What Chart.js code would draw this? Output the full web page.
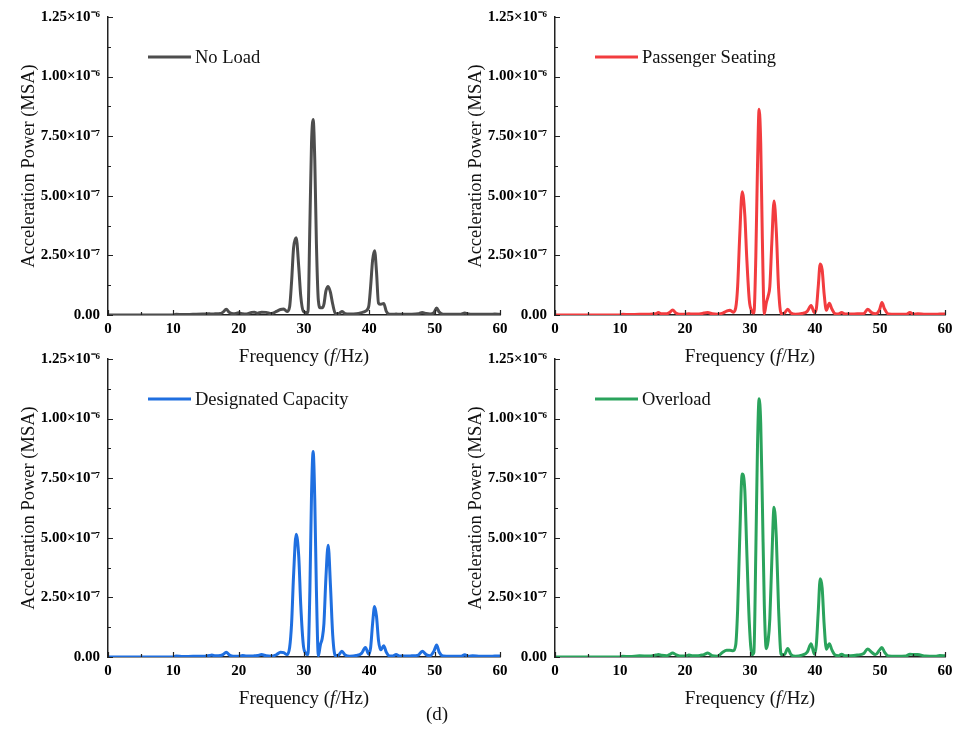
<!DOCTYPE html>
<html>
<head>
<meta charset="utf-8">
<script src="https://cdn.jsdelivr.net/npm/chart.js@4.4.1/dist/chart.umd.min.js"></script>
<style>
  html, body { margin: 0; padding: 0; background: #fff; }
  body { width: 965px; height: 738px; position: relative; overflow: hidden; font-family: "Liberation Serif", "Times New Roman", serif; }
  .panel { position: absolute; width: 520px; height: 372px; }
  #caption { position: absolute; left: 0; top: 703px; width: 874px; text-align: center; font-size: 19px; color: #111; }
</style>
</head>
<body>
<div class="panel" style="left:0;top:0"><canvas id="cNoLoad"></canvas></div>
<div class="panel" style="left:447px;top:0;width:518px"><canvas id="cSeating"></canvas></div>
<div class="panel" style="left:0;top:342px"><canvas id="cCapacity"></canvas></div>
<div class="panel" style="left:447px;top:342px;width:518px"><canvas id="cOverload"></canvas></div>
<div id="caption">(d)</div>

<script>
// frequency (Hz), shared by all four spectra
const freq = [
  0, 10, 10.4, 11.5, 13, 14.5, 15.5, 15.9, 16.4, 17.2,
  17.6, 18.1, 18.6, 19.2, 20, 20.6, 21.2, 22, 22.4, 22.9,
  23.5, 24.2, 25, 25.8, 26.4, 26.9, 27.4, 27.8, 28.1, 28.4,
  28.8, 29.2, 29.5, 29.9, 30.3, 30.6, 30.9, 31.15, 31.4, 31.65,
  31.9, 32.2, 32.5, 32.8, 33.05, 33.35, 33.7, 34.05, 34.4, 34.8,
  35.3, 35.8, 36.3, 37, 38, 38.8, 39.4, 39.9, 40.2, 40.5,
  40.8, 41.1, 41.4, 41.75, 42.2, 42.6, 43.1, 43.6, 44.1, 44.6,
  45.5, 46.5, 47.5, 48.1, 48.7, 49.3, 49.9, 50.3, 50.7, 51.3,
  52.5, 54, 54.6, 55.2, 55.8, 57, 58.5, 59.2, 60
];

// acceleration power, in units of 1e-8 MSA
const noLoad = [
  0, 0, 0.3, 0.2, 0.3, 0.4, 0.5, 0.4, 0.5, 0.6,
  1.2, 2.4, 1.0, 0.5, 0.9, 0.5, 0.4, 1.1, 1.2, 0.7,
  1.2, 1.1, 0.6, 1.5, 2.3, 2.5, 1.5, 3.5, 14, 28,
  32.4, 20, 8, 1.5, 1.0, 1.0, 38, 72, 82, 65,
  30, 6, 3, 3, 4.5, 10, 12, 9.5, 4.5, 0.6,
  0.5, 1.5, 0.6, 0.4, 0.5, 1.0, 1.6, 3.5, 12, 23,
  27, 18, 5, 4.5, 4.8, 1.5, 0.3, 0.3, 0.4, 0.3,
  0.3, 0.3, 0.5, 1.1, 0.6, 0.4, 1.0, 2.9, 1.2, 0.3,
  0.3, 0.3, 0.8, 0.4, 0.3, 0.3, 0.3, 0.4, 0.3
];
const passengerSeating = [
  0, 0, 0.3, 0.2, 0.3, 0.3, 0.5, 1.0, 0.5, 0.5,
  1.0, 2.1, 0.8, 0.3, 0.3, 0.5, 0.4, 0.4, 0.5, 0.8,
  1.0, 0.5, 0.3, 0.8, 1.6, 2.0, 1.2, 3, 12, 32,
  51.7, 42, 24, 6, 1.5, 0.8, 25, 62, 86.3, 72,
  32, 0.5, 5, 8, 12, 30, 47.8, 35, 11, 0.5,
  0.8, 2.4, 0.8, 0.3, 0.6, 1.5, 4, 1.0, 2.5, 12,
  21.4, 19, 9, 2.0, 4.9, 2.5, 0.5, 0.4, 1.0, 0.4,
  0.4, 0.5, 0.6, 2.4, 1.0, 0.5, 2.0, 5.2, 2.5, 0.4,
  0.3, 0.3, 1.0, 0.3, 0.5, 0.3, 0.3, 0.4, 0.4
];
const designatedCapacity = [
  0, 0, 0.4, 0.2, 0.3, 0.3, 0.6, 0.8, 0.5, 0.6,
  1.0, 2.0, 0.8, 0.3, 0.3, 0.6, 0.4, 0.4, 0.5, 0.6,
  1.0, 0.5, 0.3, 1.0, 2.0, 1.8, 1.0, 4, 14, 34,
  51.5, 42, 22, 5, 1.5, 1.0, 28, 68, 86.2, 66,
  28, 0.5, 5, 8, 14, 33, 46.9, 30, 9, 0.5,
  0.8, 2.4, 0.8, 0.3, 0.6, 1.5, 4, 1.2, 4, 14,
  21.2, 17, 7, 3, 4.7, 2.0, 0.4, 0.4, 1.0, 0.4,
  0.4, 0.5, 0.8, 2.4, 1.0, 0.5, 2.5, 5.0, 2.0, 0.4,
  0.3, 0.3, 0.9, 0.3, 0.5, 0.3, 0.3, 0.4, 0.4
];
const overload = [
  0, 0, 0.3, 0.2, 0.5, 0.4, 0.8, 1.0, 0.7, 0.5,
  1.0, 1.7, 1.0, 0.4, 0.4, 0.8, 0.5, 0.5, 0.8, 1.0,
  1.7, 0.5, 0.3, 2.0, 2.8, 2.8, 2.6, 5, 20, 48,
  76.8, 70, 45, 14, 1, 2, 45, 88, 108.3, 98,
  65, 22, 3.5, 7, 16, 40, 62.8, 50, 20, 1.0,
  1.0, 3.6, 1.0, 0.3, 0.8, 2.0, 5.6, 1.2, 5, 19,
  32.8, 29, 14, 3.3, 5.6, 3.0, 0.8, 0.5, 1.2, 0.5,
  0.5, 0.8, 1.5, 3.4, 2.0, 1.0, 2.8, 4.0, 2.0, 0.4,
  0.3, 0.4, 1.2, 1.0, 1.0, 0.4, 0.3, 0.6, 0.5
];

const xTickLabels = ["0", "", "10", "", "20", "", "30", "", "40", "", "50", "", "60"];
const yTickLabels = ["0.00", "", "2.50×10⁻⁷", "", "5.00×10⁻⁷", "", "7.50×10⁻⁷", "", "1.00×10⁻⁶", "", "1.25×10⁻⁶"];

const SERIF = "'Liberation Serif', 'Times New Roman', serif";
Chart.defaults.font.family = SERIF;
Chart.defaults.color = "#000";

// short tick marks pointing into the plot
const innerTicks = {
  id: "innerTicks",
  afterDatasetsDraw(chart) {
    const { ctx, chartArea: a, scales: { x, y } } = chart;
    ctx.save();
    ctx.strokeStyle = "#222";
    ctx.lineWidth = 1.2;
    ctx.beginPath();
    x.ticks.forEach((t, i) => {
      const px = Math.round(x.getPixelForValue(t.value)) + 0.5;
      const len = i % 2 === 0 ? 5 : 3;
      ctx.moveTo(px, a.bottom);
      ctx.lineTo(px, a.bottom - len);
    });
    y.ticks.forEach((t, i) => {
      const py = Math.round(y.getPixelForValue(t.value)) + 0.5;
      const len = i % 2 === 0 ? 5 : 3;
      ctx.moveTo(a.left, py);
      ctx.lineTo(a.left + len, py);
    });
    ctx.stroke();
    ctx.restore();
  },
};

// legend line + label sitting inside the plot, top left
const insideLegend = {
  id: "insideLegend",
  afterDatasetsDraw(chart) {
    const { ctx, chartArea: a } = chart;
    const ds = chart.data.datasets[0];
    const x0 = a.left + 40;
    const y0 = a.top + 40;
    ctx.save();
    ctx.strokeStyle = ds.borderColor;
    ctx.lineWidth = 3;
    ctx.beginPath();
    ctx.moveTo(x0, y0);
    ctx.lineTo(x0 + 43, y0);
    ctx.stroke();
    ctx.fillStyle = "#111";
    ctx.font = "18.5px " + SERIF;
    ctx.textBaseline = "middle";
    ctx.fillText(ds.label, x0 + 47, y0 + 1);
    ctx.restore();
  },
};

// x title with italic f
const freqTitle = {
  id: "freqTitle",
  afterDraw(chart) {
    const { ctx, chartArea: a } = chart;
    const parts = [
      ["Frequency (", "19px " + SERIF],
      ["f", "italic 19px " + SERIF],
      ["/Hz)", "19px " + SERIF],
    ];
    ctx.save();
    ctx.fillStyle = "#111";
    ctx.textBaseline = "middle";
    let total = 0;
    parts.forEach(([t, f]) => { ctx.font = f; total += ctx.measureText(t).width; });
    let x = (a.left + a.right) / 2 - total / 2;
    const y = a.bottom + 42;
    parts.forEach(([t, f]) => {
      ctx.font = f;
      ctx.fillText(t, x, y);
      x += ctx.measureText(t).width;
    });
    ctx.restore();
  },
};

function makePanel(canvasId, label, color, values, topPad) {
  return new Chart(document.getElementById(canvasId), {
    type: "line",
    data: {
      datasets: [
        {
          label: label,
          data: values.map((v, i) => ({ x: freq[i], y: v * 1e-8 })),
          borderColor: color,
          borderWidth: 3,
          pointRadius: 0,
          cubicInterpolationMode: "monotone",
          fill: false,
        },
      ],
    },
    options: {
      responsive: true,
      maintainAspectRatio: false,
      animation: false,
      devicePixelRatio: 1,
      layout: { padding: { top: topPad, right: 20, left: 0, bottom: 0 } },
      plugins: { legend: { display: false }, tooltip: { enabled: false } },
      scales: {
        x: {
          type: "linear",
          min: 0,
          max: 60,
          afterFit: (s) => { s.height = 57; },
          grid: { display: false, drawTicks: false },
          border: { display: true, color: "#222", width: 1.5 },
          ticks: {
            stepSize: 5,
            autoSkip: false,
            maxRotation: 0,
            padding: 5,
            font: { size: 15, weight: "bold" },
            callback: (v, i) => xTickLabels[i],
          },
        },
        y: {
          min: 0,
          max: 1.25e-6,
          afterFit: (s) => { s.width = 108; },
          grid: { display: false, drawTicks: false },
          border: { display: true, color: "#222", width: 1.5 },
          ticks: {
            stepSize: 1.25e-7,
            autoSkip: false,
            padding: 8,
            font: { size: 15, weight: "bold" },
            callback: (v, i) => yTickLabels[i],
          },
          title: {
            display: true,
            text: "Acceleration Power (MSA)",
            color: "#111",
            font: { size: 18.5 },
            padding: { top: 18, bottom: 0 },
          },
        },
      },
    },
    plugins: [innerTicks, insideLegend, freqTitle],
  });
}

makePanel("cNoLoad", "No Load", "#4d4d4d", noLoad, 17);
makePanel("cSeating", "Passenger Seating", "#f23c3f", passengerSeating, 17);
makePanel("cCapacity", "Designated Capacity", "#1f6fe0", designatedCapacity, 16);
makePanel("cOverload", "Overload", "#2aa35c", overload, 16);
</script>
</body>
</html>
